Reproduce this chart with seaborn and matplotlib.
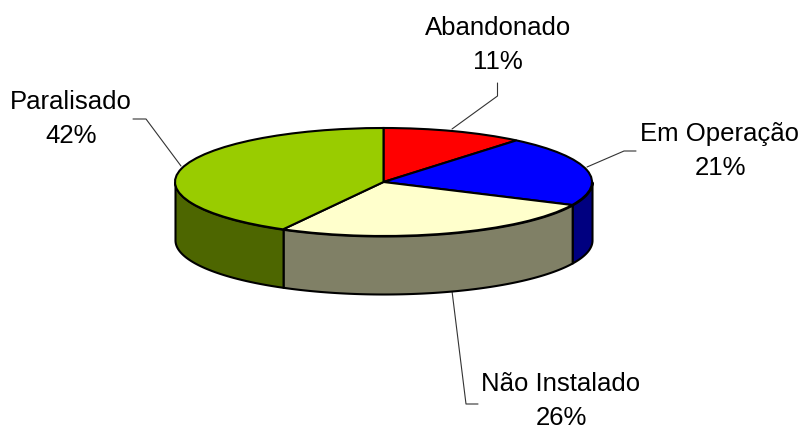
"""3D style pie of the installation status."""
import numpy as np
import matplotlib
matplotlib.use("Agg")
import matplotlib.pyplot as plt
import seaborn as sns

labels = ["Abandonado", "Em Operação", "Não Instalado", "Paralisado"]
shares = [11, 21, 26, 42]
top_colors = ["#FF0000", "#0000FF", "#FFFFCC", "#99CC00"]
side_colors = ["#800000", "#000080", "#808066", "#4D6600"]

# pixel layout of the picture
W, H = 804, 426
CX, CY = 383.5, 182.0
RX, RY = 208.5, 54.0
DEPTH = 58.0 / RY


def px(x, y):
    return (x - CX) / RX, (CY - y) / RY


# same order as labels
label_pos = [(498, 45), (720, 151), (561, 401), (71, 119)]
leaders = [
    [(497.5, 83), (497.5, 96), (452, 129)],
    [(636, 151), (624, 151), (587, 167)],
    [(452, 291), (466, 404), (478, 404)],
    [(133, 119), (146, 119), (181, 166)],
]

sns.set_theme(style="white")
plt.rcParams["font.family"] = ["Liberation Sans", "DejaVu Sans"]

fig = plt.figure(figsize=(W / 100, H / 100), dpi=100)
ax = fig.add_axes([0, 0, 1, 1])

# side walls, only the front half of the rim shows
edges = np.concatenate([[0], np.cumsum(shares)]) / sum(shares) * 2 * np.pi
for start, end, color in zip(edges[:-1], edges[1:], side_colors):
    lo, hi = max(start, np.pi / 2), min(end, 3 * np.pi / 2)
    if lo >= hi:
        continue
    t = np.linspace(lo, hi, 120)
    ax.fill_between(
        np.sin(t), np.cos(t), np.cos(t) - DEPTH,
        facecolor=color, edgecolor="black", linewidth=1.5, zorder=1,
    )

# top face
wedges, _ = ax.pie(
    shares,
    colors=top_colors,
    startangle=90,
    counterclock=False,
    wedgeprops={"edgecolor": "black", "linewidth": 1.5, "zorder": 2},
)
ax.set_aspect("auto")
ax.set_xlim(px(0, 0)[0], px(W, 0)[0])
ax.set_ylim(px(0, H)[1], px(0, 0)[1])
ax.axis("off")

for name, share, (x, y), pts in zip(labels, shares, label_pos, leaders):
    tx, ty = px(x, y)
    ax.text(
        tx, ty, f"{name}\n{share}%",
        ha="center", va="center", fontsize=18.5, color="black",
        linespacing=1.5, zorder=3,
    )
    xs, ys = zip(*[px(*p) for p in pts])
    ax.plot(xs, ys, color="#333333", linewidth=0.8, zorder=0)

fig.savefig("out.png", dpi=100, facecolor="white")
